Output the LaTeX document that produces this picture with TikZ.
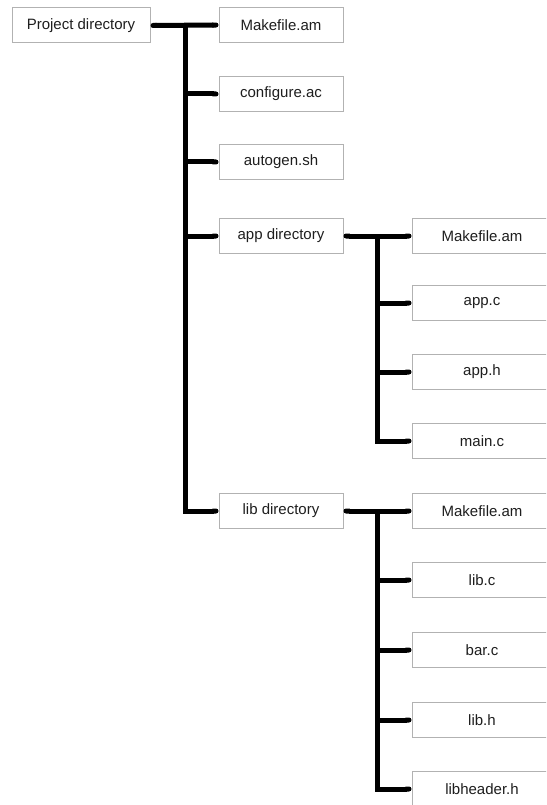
\documentclass[tikz,border=0pt]{standalone}
\usepackage{fontspec}
\setmainfont{Liberation Sans}
\usetikzlibrary{arrows.meta}
\definecolor{boxgray}{RGB}{178,178,178}
\definecolor{labelgray}{RGB}{30,30,30}
\begin{document}
\begin{tikzpicture}[x=1pt,y=-1pt,
  file/.style={draw=boxgray, line width=1pt, fill=white, inner sep=0pt,
    minimum height=35pt, text=labelgray, font=\fontsize{15}{18}\selectfont},
  topcol/.style={file, minimum width=124pt},
  subcol/.style={file, minimum width=140pt},
  link/.style={line width=5pt, line cap=butt, line join=miter, -{Round Cap[]}},
  bridge/.style={link, {Round Cap[]}-{Round Cap[]}}]
\useasboundingbox (0,0) rectangle (546,805);
\clip (0,0) rectangle (546,805);

% root
\node[file, minimum width=138pt] (proj) at (81,25.5) {Project directory};

% first level
\node[topcol] (mk)   at (281,25)  {Makefile.am};
\node[topcol] (conf) at (281,94)  {configure.ac};
\node[topcol] (auto) at (281,162) {autogen.sh};
\node[topcol] (app)  at (281,236) {app directory};
\node[topcol] (lib)  at (281,511) {lib directory};

% app directory contents
\node[subcol] (amk)   at (482,236) {Makefile.am};
\node[subcol] (appc)  at (482,303) {app.c};
\node[subcol] (apph)  at (482,372) {app.h};
\node[subcol] (mainc) at (482,441) {main.c};

% lib directory contents
\node[subcol] (lmk)  at (482,511) {Makefile.am};
\node[subcol] (libc) at (482,580) {lib.c};
\node[subcol] (barc) at (482,650) {bar.c};
\node[subcol] (libh) at (482,720) {lib.h};
\node[subcol] (libhdr) at (482,789) {libheader.h};

% trunk junctions
\coordinate (ta) at (185,25);
\coordinate (tb) at (377,236);
\coordinate (tc) at (377,511);

% root tree
\draw[bridge] (proj.east) -- (mk.west);
\draw[link] (ta) |- (lib.west);
\draw[link] (ta |- conf.west) -- (conf.west);
\draw[link] (ta |- auto.west) -- (auto.west);
\draw[link] (ta |- app.west) -- (app.west);

% app subtree
\draw[bridge] (app.east) -- (amk.west);
\draw[link] (tb) |- (mainc.west);
\draw[link] (tb |- appc.west) -- (appc.west);
\draw[link] (tb |- apph.west) -- (apph.west);

% lib subtree
\draw[bridge] (lib.east) -- (lmk.west);
\draw[link] (tc) |- (libhdr.west);
\draw[link] (tc |- libc.west) -- (libc.west);
\draw[link] (tc |- barc.west) -- (barc.west);
\draw[link] (tc |- libh.west) -- (libh.west);
\end{tikzpicture}
\end{document}
